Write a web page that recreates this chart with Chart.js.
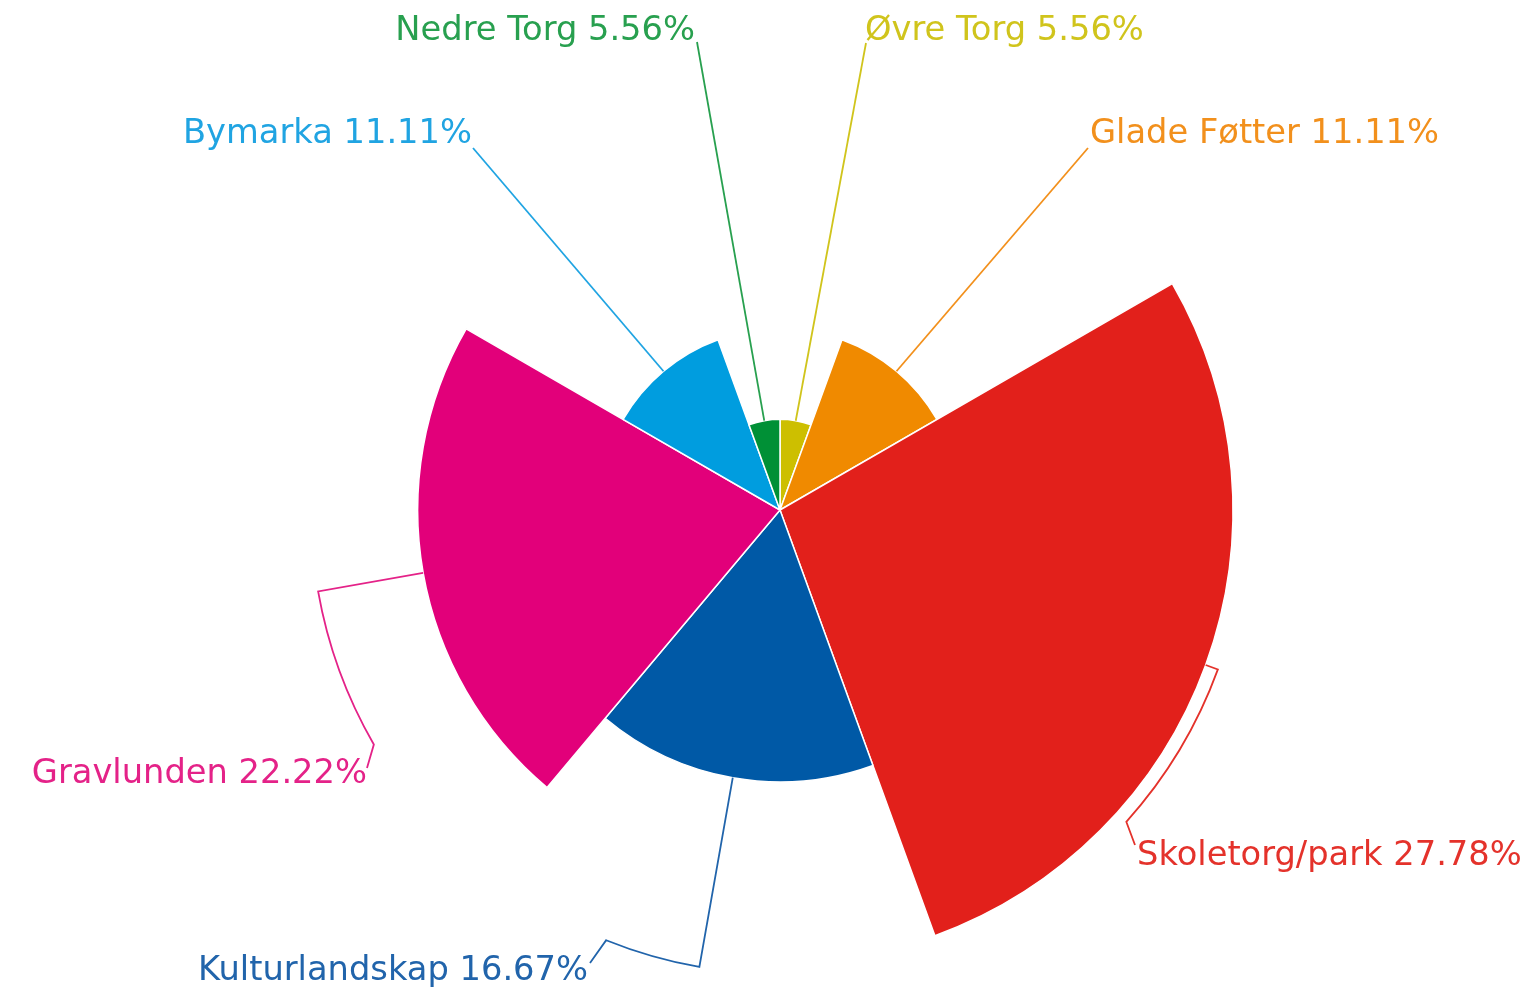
<!DOCTYPE html>
<html>
<head>
<meta charset="utf-8">
<script src="https://cdn.jsdelivr.net/npm/chart.js@4/dist/chart.umd.min.js"></script>
<style>
  html, body { margin: 0; padding: 0; background: #fff; }
  #wrap { width: 1537px; height: 992px; position: relative; }
</style>
</head>
<body>
<div id="wrap"><canvas id="chart"></canvas></div>
<script>
const places = ['Øvre Torg', 'Glade Føtter', 'Skoletorg/park', 'Kulturlandskap', 'Gravlunden', 'Bymarka', 'Nedre Torg']
const shares = [5.56, 11.11, 27.78, 16.67, 22.22, 11.11, 5.56]
const colors = ['#cdbf00', '#f08a00', '#e2201b', '#0059a6', '#e2007a', '#009ddf', '#009036']
const labelColors = ['#d0c41c', '#f2901c', '#e4322b', '#2164ab', '#e42288', '#20a4e2', '#28a04f']

// where each label sits, as offsets from the pie centre (ring = radius the connector bends along)
const labelLayout = [
  { end: [86, -467], text: [85, -479], align: 'left' },
  { end: [308, -362], text: [310, -376], align: 'left' },
  { ring: 466, turn: 132, end: [355, 335], text: [357, 346], align: 'left' },
  { ring: 464, turn: 202, end: [-190, 453], text: [-192, 461], align: 'right' },
  { ring: 469, turn: 240, end: [-413, 258], text: [-413, 264], align: 'right' },
  { end: [-307, -362], text: [-308, -376], align: 'right' },
  { end: [-83, -468], text: [-85, -479], align: 'right' }
]

const total = shares.reduce((a, b) => a + b, 0)

const outsideLabels = {
  id: 'outsideLabels',
  afterDatasetsDraw(chart) {
    const ctx = chart.ctx
    const meta = chart.getDatasetMeta(0)
    ctx.save()
    ctx.font = '33.7px "DejaVu Sans", Verdana, sans-serif'
    ctx.textBaseline = 'middle'
    ctx.lineWidth = 1.8
    meta.data.forEach((arc, i) => {
      const p = arc.getProps(['x', 'y', 'startAngle', 'endAngle', 'outerRadius'], true)
      const lay = labelLayout[i]
      const mid = (p.startAngle + p.endAngle) / 2
      ctx.strokeStyle = labelColors[i]
      ctx.fillStyle = labelColors[i]
      ctx.beginPath()
      ctx.moveTo(p.x + Math.cos(mid) * p.outerRadius, p.y + Math.sin(mid) * p.outerRadius)
      if (lay.ring) {
        const turn = (lay.turn - 90) * Math.PI / 180
        ctx.lineTo(p.x + Math.cos(mid) * lay.ring, p.y + Math.sin(mid) * lay.ring)
        ctx.arc(p.x, p.y, lay.ring, mid, turn, turn < mid)
      }
      ctx.lineTo(p.x + lay.end[0], p.y + lay.end[1])
      ctx.stroke()
      ctx.textAlign = lay.align
      ctx.fillText(places[i] + ' ' + shares[i].toFixed(2) + '%', p.x + lay.text[0], p.y + lay.text[1])
    })
    ctx.restore()
  }
}

new Chart(document.getElementById('chart'), {
  type: 'polarArea',
  data: {
    labels: places,
    datasets: [{
      data: shares,
      backgroundColor: colors,
      borderColor: '#ffffff',
      borderWidth: 1.5,
      angle: shares.map(v => v / total * 360)
    }]
  },
  options: {
    responsive: true,
    maintainAspectRatio: false,
    animation: false,
    layout: { padding: { left: 23, right: 0, top: 57, bottom: 29 } },
    scales: {
      r: { display: false, min: 0, max: Math.max(...shares) }
    },
    plugins: {
      legend: { display: false },
      tooltip: { enabled: false }
    }
  },
  plugins: [outsideLabels]
})
</script>
</body>
</html>
